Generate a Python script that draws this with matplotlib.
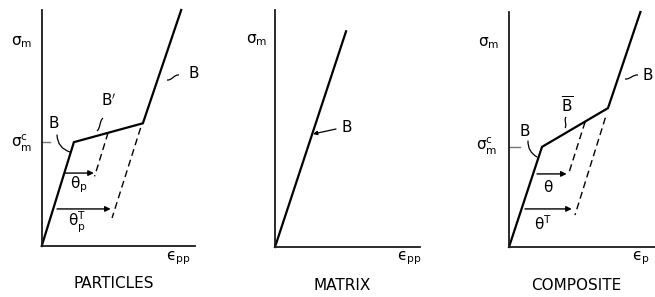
import matplotlib
matplotlib.use("Agg")
import matplotlib.pyplot as plt
from matplotlib.path import Path
from matplotlib.patches import PathPatch

# stress-strain schematic values (arbitrary units, axes run 0..10)
particles_strain = [0, 2.1, 6.6, 9.1]
particles_stress = [0, 4.4, 5.2, 10.0]
particles_unload = [([4.33, 3.45], [4.80, 2.95]), ([6.45, 4.59], [5.00, 1.19])]
particles_theta = [(3.09, 1.52, 3.40), (1.57, 1.00, 4.50)]   # (stress, from, to)

matrix_strain = [0, 4.9]
matrix_stress = [0, 9.1]

composite_strain = [0, 2.26, 6.78, 9.0]
composite_stress = [0, 4.26, 5.91, 10.0]
composite_unload = [([5.21, 4.10], [5.32, 3.15]), ([6.60, 4.52], [5.50, 1.36])]
composite_theta = [(3.11, 1.92, 3.95), (1.62, 1.10, 4.30)]

panel_titles = ["PARTICLES", "MATRIX", "COMPOSITE"]
strain_labels = ["\u03f5$_{\\rm pp}$", "\u03f5$_{\\rm pp}$", "\u03f5$_{\\rm p}$"]

plt.rcParams["font.family"] = ["DejaVu Sans"]
plt.rcParams["mathtext.fontset"] = "dejavusans"

W, H = 655, 297
fig = plt.figure(figsize=(W / 100, H / 100), dpi=100)


def panel(left, right, top, bottom):
    ax = fig.add_axes([left / W, 1 - bottom / H, (right - left) / W, (bottom - top) / H])
    ax.set_xlim(0, 10)
    ax.set_ylim(0, 10)
    for s in ["top", "right"]:
        ax.spines[s].set_visible(False)
    for s in ["left", "bottom"]:
        ax.spines[s].set_linewidth(1.3)
        ax.spines[s].set_color("#1a1a1a")
    ax.set_xticks([])
    ax.set_yticks([])
    ax.patch.set_alpha(0)
    return ax


def draw(ax, strain, stress, unload=None, theta=None, tick_len=0.6):
    ax.plot(strain, stress, color="black", lw=1.6, clip_on=False, solid_joinstyle="miter")
    if unload:
        for xs, ys in unload:
            ax.plot(xs, ys, color="black", lw=1.0, ls=(0, (5, 3)))
    if theta:
        for y, x0, x1 in theta:
            ax.annotate("", xy=(x1, y), xytext=(x0, y),
                        arrowprops=dict(arrowstyle="-|>", color="black", lw=1.0,
                                        mutation_scale=8, shrinkA=0, shrinkB=0))
        ax.plot([0, tick_len], [stress[1], stress[1]], color="#777777", lw=1.0)


ax1 = panel(41.7, 195, 10, 246)
draw(ax1, particles_strain, particles_stress, particles_unload, particles_theta, 0.55)
ax2 = panel(275, 420, 10, 247)
draw(ax2, matrix_strain, matrix_stress)
ax3 = panel(509, 655, 12, 247)
draw(ax3, composite_strain, composite_stress, composite_unload, composite_theta, 0.75)

# overlay in pixel units for labels and leaders
ov = fig.add_axes([0, 0, 1, 1])
ov.set_xlim(0, W)
ov.set_ylim(H, 0)
ov.axis("off")
ov.patch.set_alpha(0)

fs = 11
kw = dict(ha="center", va="center", fontsize=fs)
sig = r"$\mathrm{\sigma}_{\rm m}$"
sigc = r"$\mathrm{\sigma}_{\rm m}^{\rm c}$"

# particles
ov.text(22, 42, sig, **kw)
ov.text(22, 143, sigc, **kw)
ov.text(54, 124, "B", **kw)
ov.text(109, 101, "B$^{\\prime}$", **kw)
ov.text(194, 74, "B", **kw)
ov.text(79, 185, r"$\mathrm{\theta}_{\rm p}$", **kw)
ov.text(77, 222, r"$\mathrm{\theta}_{\rm p}^{\rm T}$", **kw)
ov.text(178, 258, strain_labels[0], **kw)
ov.text(114, 284, panel_titles[0], **kw)

# matrix
ov.text(257, 40, sig, **kw)
ov.text(347, 128, "B", **kw)
ov.text(409, 258, strain_labels[1], **kw)
ov.text(342, 285, panel_titles[1], **kw)

# composite
ov.text(489, 43, sig, **kw)
ov.text(487, 146, sigc, **kw)
ov.text(525, 132, "B", **kw)
ov.text(567, 106, r"$\overline{\rm B}$", **kw)
ov.text(648, 76, "B", **kw)
ov.text(548, 187, r"$\mathrm{\theta}$", **kw)
ov.text(543, 224, r"$\mathrm{\theta}^{\rm T}$", **kw)
ov.text(641, 258, strain_labels[2], **kw)
ov.text(576, 285, panel_titles[2], **kw)

# leader strokes (wavy, hand-drawn look)
def wave(p0, p1, amp=2.5):
    x0, y0 = p0
    x1, y1 = p1
    dx, dy = x1 - x0, y1 - y0
    n = (dx * dx + dy * dy) ** 0.5
    nx, ny = -dy / n * amp, dx / n * amp
    c1 = (x0 + dx / 3 + nx, y0 + dy / 3 + ny)
    c2 = (x0 + 2 * dx / 3 - nx, y0 + 2 * dy / 3 - ny)
    path = Path([p0, c1, c2, p1], [Path.MOVETO, Path.CURVE4, Path.CURVE4, Path.CURVE4])
    ov.add_patch(PathPatch(path, fc="none", ec="black", lw=0.9))


lead = dict(arrowstyle="-", color="black", lw=0.9, shrinkA=0, shrinkB=0)
for p0, p1, rad in [((57, 135), (70, 152), 0.35), ((528, 141), (537, 157), 0.3)]:
    ov.annotate("", xy=p1, xytext=p0,
                arrowprops=dict(connectionstyle=f"arc3,rad={rad}", **lead))
wave((97, 131), (103, 118), 2.0)
wave((167, 80), (179, 75), 2.5)
wave((565, 128), (566, 117), 2.0)
wave((625, 79), (638, 75), 2.0)
ov.annotate("", xy=(313, 134), xytext=(336, 129),
            arrowprops=dict(arrowstyle="-|>", color="black", lw=0.9,
                            mutation_scale=6, shrinkA=0, shrinkB=0))

fig.savefig("out.png", dpi=100)
